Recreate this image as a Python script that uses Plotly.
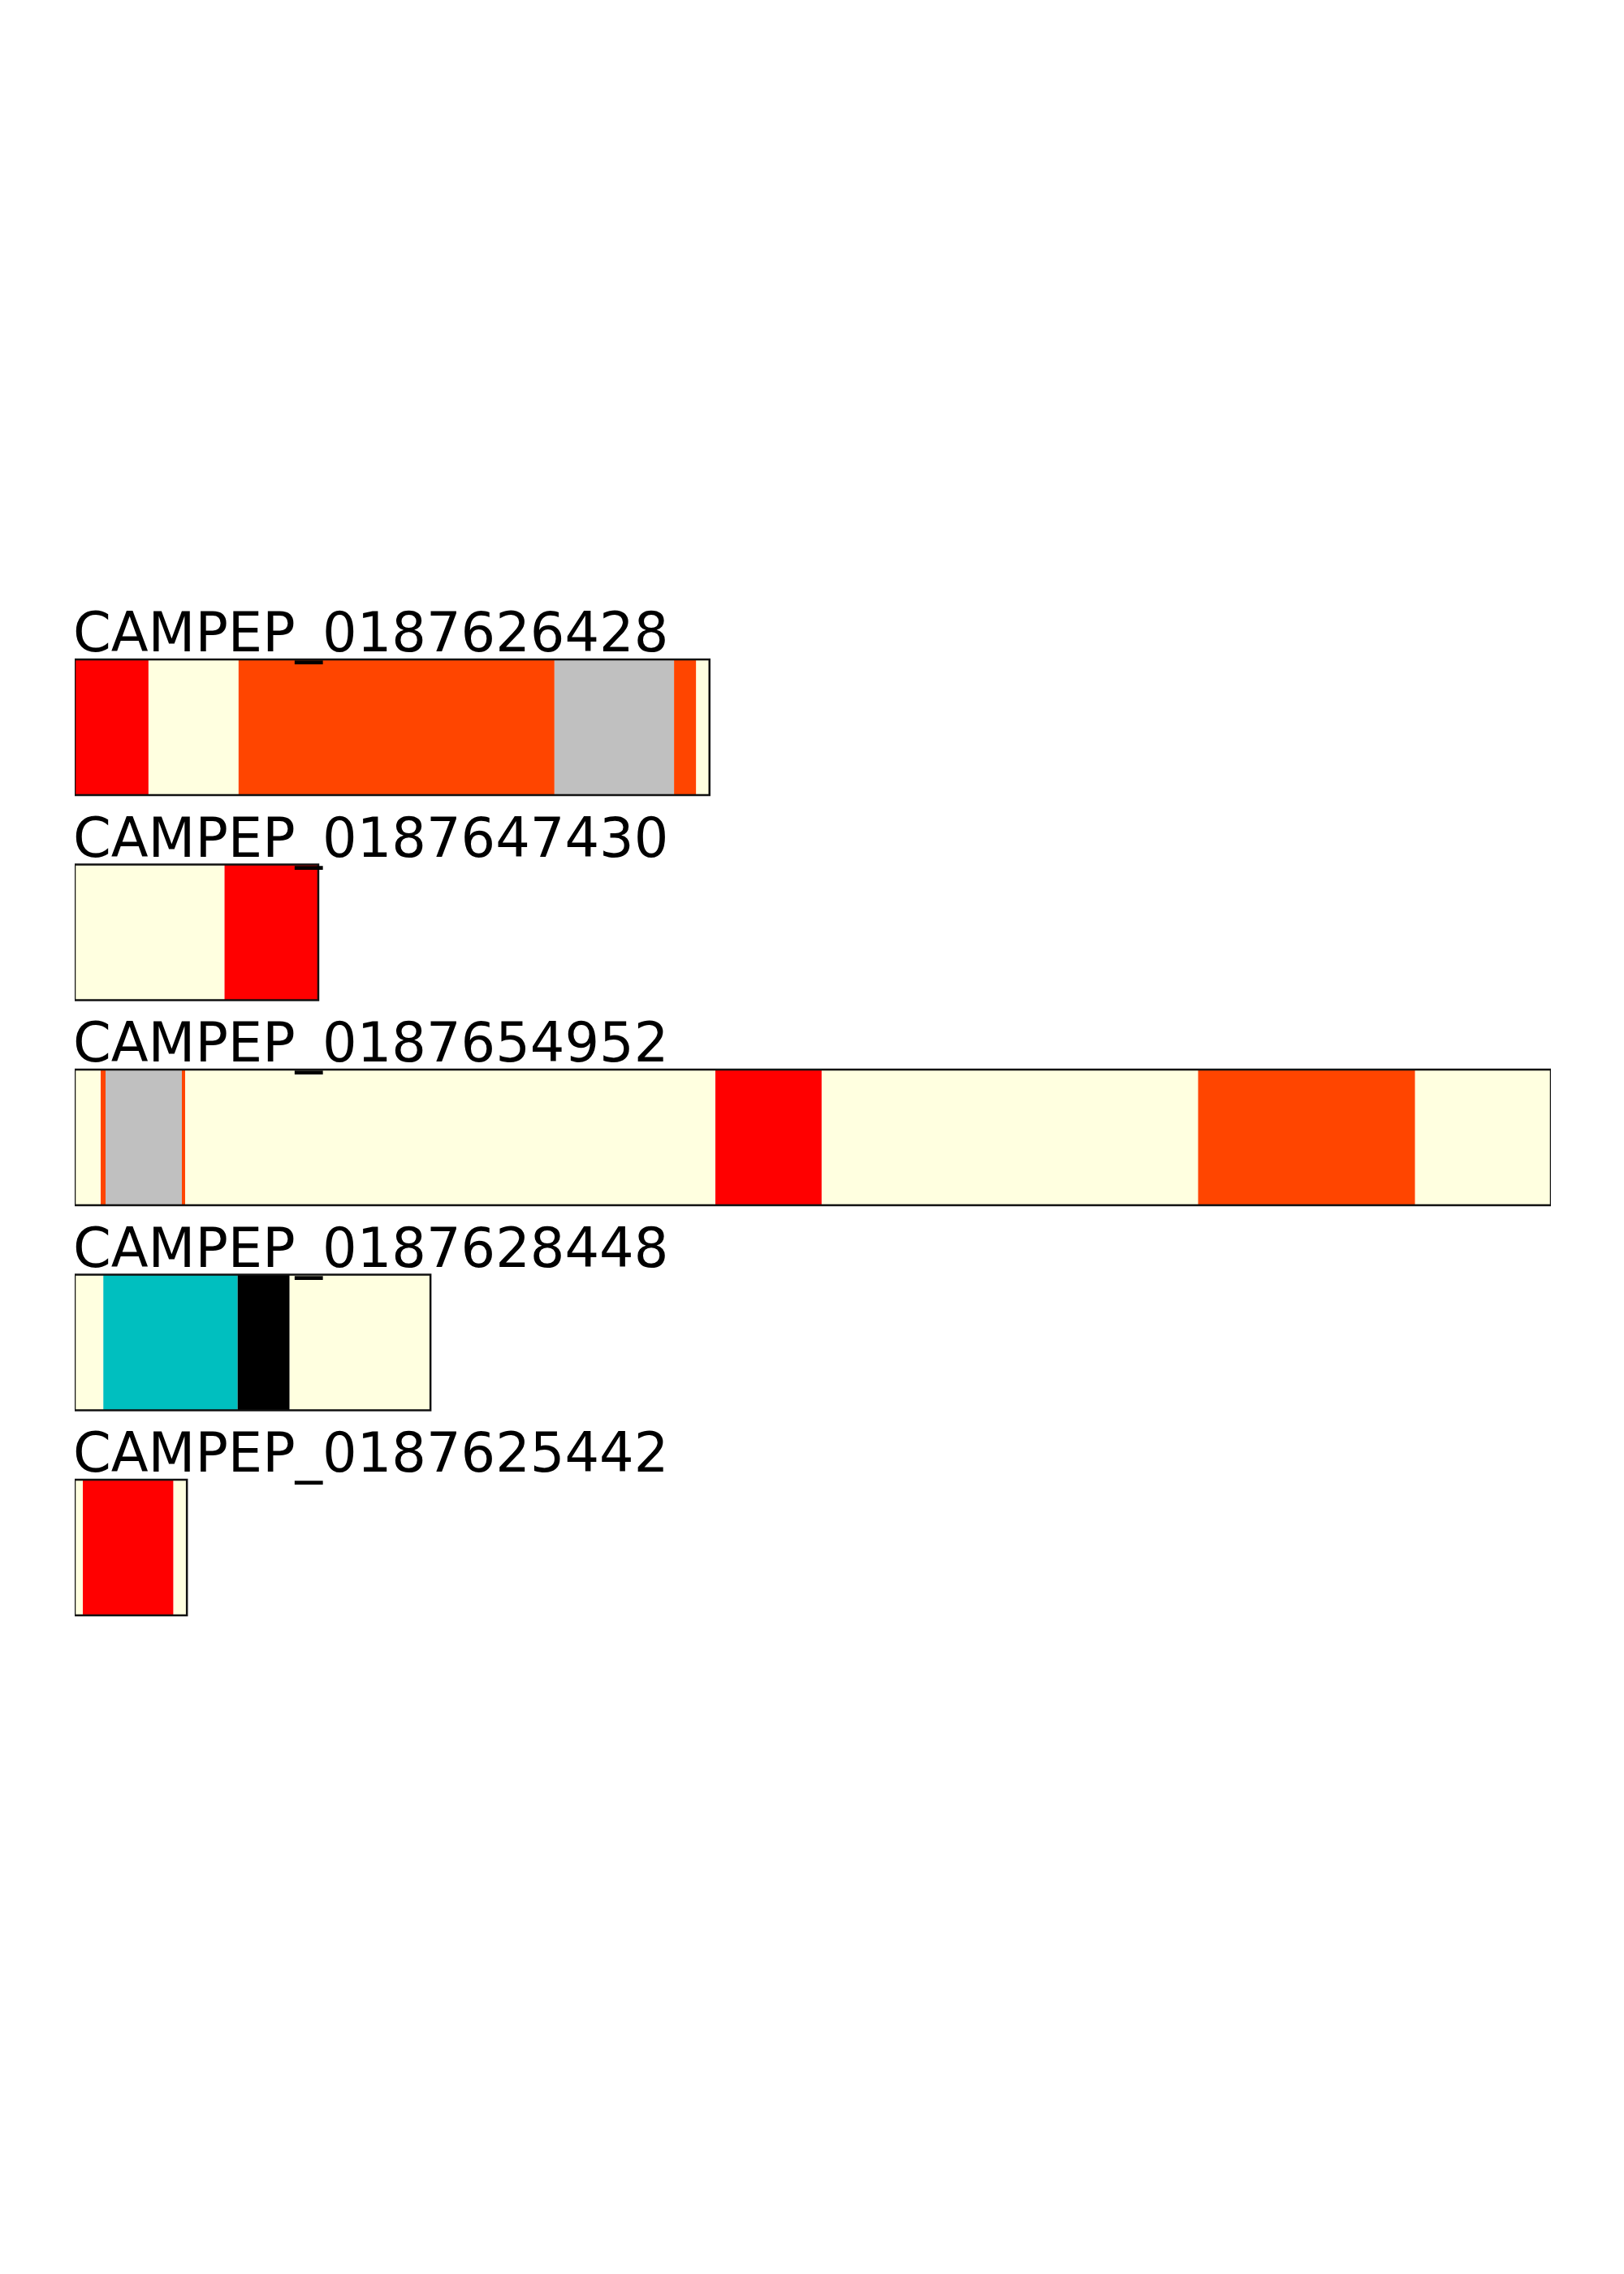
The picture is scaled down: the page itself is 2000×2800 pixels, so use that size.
import plotly.graph_objects as go
from plotly.subplots import make_subplots

# ---- data (units: residue positions) ----
protein_names = [
    "CAMPEP_0187626428",
    "CAMPEP_0187647430",
    "CAMPEP_0187654952",
    "CAMPEP_0187628448",
    "CAMPEP_0187625442",
]
protein_lengths = [430, 165, 1000, 241, 76]

seg_starts_1 = [0, 50, 111, 325, 406, 421]
seg_ends_1 = [50, 111, 325, 406, 421, 430]
seg_colors_1 = ["red", "lightyellow", "orangered", "silver", "orangered", "lightyellow"]

seg_starts_2 = [0, 101.5]
seg_ends_2 = [101.5, 165]
seg_colors_2 = ["lightyellow", "red"]

seg_starts_3 = [0, 17.6, 20.9, 72.6, 74.8, 434, 506, 761, 908]
seg_ends_3 = [17.6, 20.9, 72.6, 74.8, 434, 506, 761, 908, 1000]
seg_colors_3 = ["lightyellow", "orangered", "silver", "orangered", "lightyellow",
                "red", "lightyellow", "orangered", "lightyellow"]

seg_starts_4 = [0, 19.4, 110.4, 145.6]
seg_ends_4 = [19.4, 110.4, 145.6, 241]
seg_colors_4 = ["lightyellow", "#00BFBF", "black", "lightyellow"]

seg_starts_5 = [0, 5.5, 66.9]
seg_ends_5 = [5.5, 66.9, 76]
seg_colors_5 = ["lightyellow", "red", "lightyellow"]

segments = [
    (seg_starts_1, seg_ends_1, seg_colors_1),
    (seg_starts_2, seg_ends_2, seg_colors_2),
    (seg_starts_3, seg_ends_3, seg_colors_3),
    (seg_starts_4, seg_ends_4, seg_colors_4),
    (seg_starts_5, seg_ends_5, seg_colors_5),
]

# ---- layout geometry (page body adds an 8px offset) ----
W, H = 2000, 2800
x_left_px, x_right_px = 84, 1902
first_top_px, row_step_px, box_h_px = 804, 252.5, 167

n = len(protein_names)
fig = make_subplots(rows=n, cols=1)

max_len = max(protein_lengths)
for i, (starts, ends, colors) in enumerate(segments):
    r = i + 1
    widths = [e - s for s, e in zip(starts, ends)]
    fig.add_trace(
        go.Bar(
            orientation="h",
            y=[0.5] * len(starts),
            x=widths,
            base=starts,
            width=1,
            marker=dict(color=colors, line=dict(width=0)),
            showlegend=False,
            hoverinfo="skip",
        ),
        row=r, col=1,
    )
    top = first_top_px + row_step_px * i
    bottom = top + box_h_px
    yd = [1 - bottom / H, 1 - top / H]
    xa = "xaxis" if i == 0 else f"xaxis{r}"
    ya = "yaxis" if i == 0 else f"yaxis{r}"
    fig.layout[xa].update(domain=[x_left_px / W, x_right_px / W], range=[0, max_len],
                          visible=False, showgrid=False, zeroline=False, fixedrange=True)
    fig.layout[ya].update(domain=yd, range=[0, 1], visible=False,
                          showgrid=False, zeroline=False, fixedrange=True)
    xref = "x" if i == 0 else f"x{r}"
    yref = "y" if i == 0 else f"y{r}"
    fig.add_shape(type="rect", xref=xref, yref=f"{yref} domain",
                  x0=0, x1=protein_lengths[i], y0=0, y1=1,
                  line=dict(color="#111111", width=2.5), fillcolor="rgba(0,0,0,0)",
                  layer="above")
    fig.add_annotation(text=protein_names[i], xref=xref, yref=f"{yref} domain",
                       x=0, y=1, xanchor="left", yanchor="bottom",
                       showarrow=False, yshift=-8, xshift=-4,
                       font=dict(family="DejaVu Sans", size=67, color="black"))

fig.update_layout(
    width=W, height=H,
    margin=dict(l=0, r=0, t=0, b=0),
    paper_bgcolor="white", plot_bgcolor="white",
    barmode="overlay",
    showlegend=False,
)

fig.write_html("out.html")
